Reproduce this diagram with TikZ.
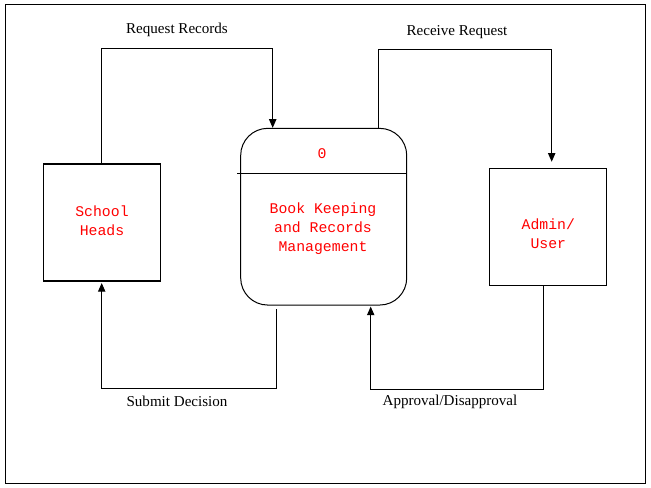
\documentclass[tikz,border=0pt]{standalone}
\usepackage{fontspec}
\setmainfont{Liberation Serif}
\newfontfamily\boxfont{Liberation Mono}
\usetikzlibrary{arrows.meta}
\begin{document}
\begin{tikzpicture}[x=0.75pt,y=-0.75pt,
  entity/.style={draw,line width=0.8pt,minimum width=117*0.75pt,minimum height=117*0.75pt,inner sep=0pt},
  boxtext/.style={font=\boxfont\fontsize{11.1pt}{14.25pt}\selectfont,text=red,align=center,inner sep=0pt},
  flow/.style={line width=0.75pt,-{Triangle[length=6.5pt,width=5.5pt]}},
  plain/.style={line width=0.75pt},
  lbl/.style={font=\fontsize{11.3pt}{13pt}\selectfont,inner sep=0pt}]
\useasboundingbox (0,0) rectangle (651,488);
\draw[line width=1.1pt] (5.3,4.5) rectangle (645.3,483.7);
% entities
\node[entity] (sh) at (102,222.5) {};
\node[boxtext] (sht) at (102,221) {School\\Heads};
\node[entity] (au) at (548.3,226.8) {};
\node[boxtext] (aut) at (548.3,234) {Admin/\\User};
% process
\node[draw,line width=0.75pt,rounded corners=27*0.75pt,minimum width=166*0.75pt,minimum height=176.7*0.75pt,inner sep=0pt] (p) at (323.7,216.7) {};
\draw[plain] (237.3,173.3) -- (p.east |- 0,173.3);
\node[boxtext] (pid) at (322,154) {0};
\node[boxtext] (pname) at (323,229) {Book Keeping\\and Records\\Management};
% Request Records
\coordinate (r1) at (101.7,49);
\coordinate (r2) at (272.7,49);
\draw[flow] (sh.north -| r1) -- (r1) -- (r2) -- (r2 |- p.north);
\node[lbl] (lr) at (177,30) {Request Records};
% Receive Request
\coordinate (q1) at (378.3,50);
\coordinate (q2) at (551.7,50);
\draw[flow,shorten >=6*0.75pt] (q1 |- p.north) -- (q1) -- (q2) -- (q2 |- au.north);
\node[lbl] (lq) at (457,32) {Receive Request};
% Submit Decision
\coordinate (s1) at (276.3,389);
\coordinate (s2) at (101.7,389);
\draw[flow] ([yshift=-3.5*0.75pt]s1 |- p.south) -- (s1) -- (s2) -- ([yshift=-1.5*0.75pt]s2 |- sh.south);
\node[lbl] (ls) at (177,401) {Submit Decision};
% Approval/Disapproval
\coordinate (a1) at (543.3,390);
\coordinate (a2) at (370.7,390);
\draw[flow] (a1 |- au.south) -- (a1) -- (a2) -- ([yshift=-1*0.75pt]a2 |- p.south);
\node[lbl] (la) at (450,402) {Approval/Disapproval};
\end{tikzpicture}
\end{document}
